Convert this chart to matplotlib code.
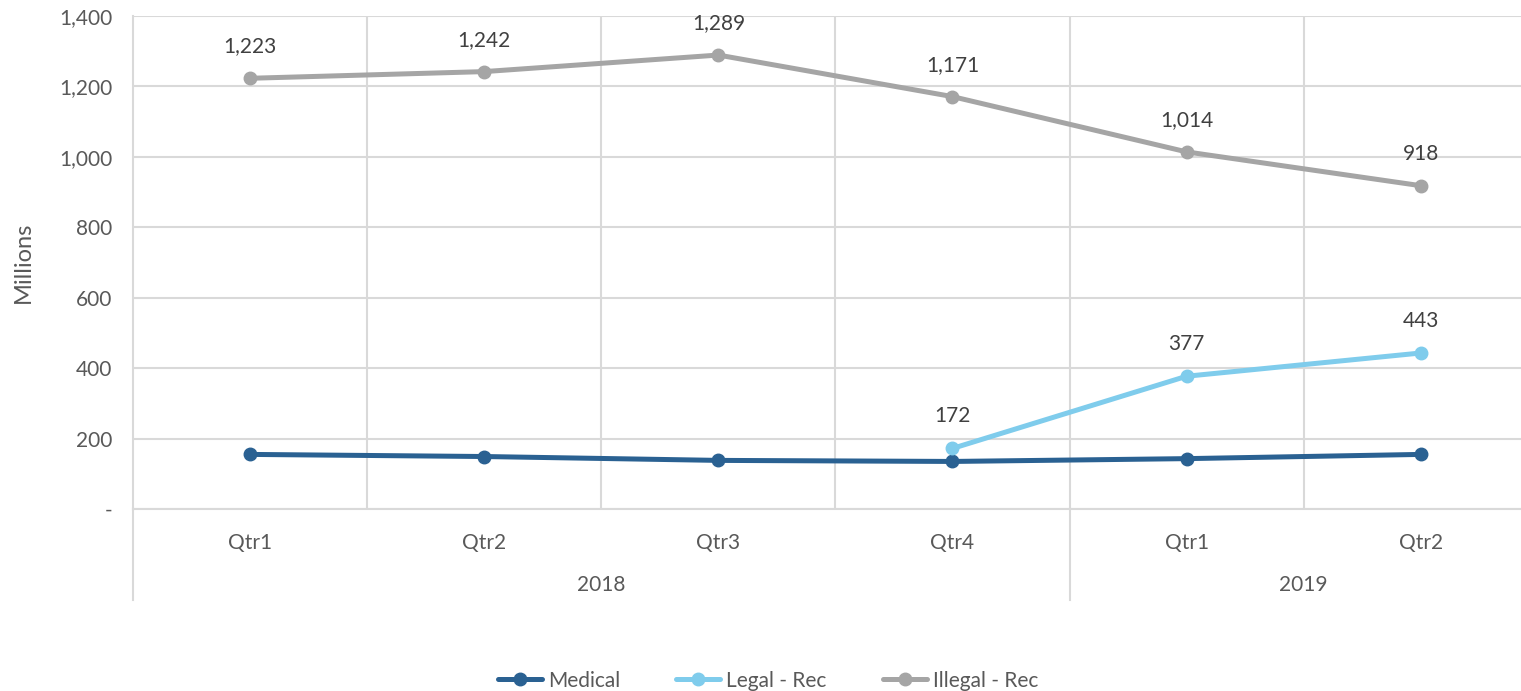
import matplotlib.pyplot as plt
import matplotlib.ticker as mticker
import numpy as np

quarters = ['Qtr1', 'Qtr2', 'Qtr3', 'Qtr4', 'Qtr1', 'Qtr2']
years = ['2018', '2019']
year_groups = [[0, 1, 2, 3], [4, 5]]
medical = [155, 149, 138, 135, 143, 155]
legal_rec = [np.nan, np.nan, np.nan, 172, 377, 443]
illegal_rec = [1223, 1242, 1289, 1171, 1014, 918]

plt.rcParams['font.family'] = ['Lato', 'DejaVu Sans']

grid_c = '#D9D9D9'
text_c = '#595959'

fig = plt.figure(figsize=(15.21, 6.91), dpi=100)
ax = fig.add_axes([0.0874, 0.2634, 0.9237, 0.7135])

x = np.arange(len(quarters))
series = [('Medical', medical, '#2A6192', False),
          ('Legal - Rec', legal_rec, '#7FCCEC', True),
          ('Illegal - Rec', illegal_rec, '#A5A5A5', True)]
for name, vals, col, labelled in series:
    ax.plot(x, vals, color=col, lw=3.6, marker='o', ms=9, label=name,
            solid_capstyle='round', zorder=3)
    if labelled:
        for xi, v in zip(x, vals):
            if not np.isnan(v):
                ax.annotate(f'{v:,.0f}', (xi, v), xytext=(0, 23), textcoords='offset points',
                            ha='center', va='center', fontsize=15, color='#404040')

ax.set_xlim(-0.5, len(quarters) - 0.5)
ax.set_ylim(0, 1400)
ax.set_yticks(range(0, 1401, 200))
ax.yaxis.set_major_formatter(mticker.FuncFormatter(lambda v, p: '-' if v == 0 else f'{v:,.0f}'))
ax.set_xticks(x)
ax.set_xticklabels(quarters)
ax.set_xticks(np.arange(0.5, len(quarters) - 0.5), minor=True)
ax.tick_params(axis='both', which='both', length=0, labelsize=15, labelcolor=text_c)
ax.tick_params(axis='x', pad=17)
ax.tick_params(axis='y', pad=15)
ax.grid(axis='y', color=grid_c, lw=1.5)
ax.grid(axis='x', which='minor', color=grid_c, lw=1.5)
ax.set_axisbelow(True)
for s in ['top', 'right']:
    ax.spines[s].set_visible(False)
for s in ['left', 'bottom']:
    ax.spines[s].set_color(grid_c)
    ax.spines[s].set_linewidth(1.5)

ax.set_ylabel('Millions', fontsize=17, color=text_c, labelpad=18)

# year grouping below the axis
tr = ax.get_xaxis_transform()
ax.plot([-0.5, -0.5], [0, -0.185], transform=tr, color=grid_c, lw=1.5, clip_on=False)
ax.plot([3.5, 3.5], [0, -0.185], transform=tr, color=grid_c, lw=1.5, clip_on=False)
for yr, idx in zip(years, year_groups):
    ax.text(np.mean(idx), -0.155, yr, transform=tr, ha='center', va='center',
            fontsize=15, color=text_c)

fig.legend(loc='center', bbox_to_anchor=(0.505, 0.015), ncol=3, frameon=False,
           fontsize=15, labelcolor=text_c, handlelength=2.1, columnspacing=2.7,
           handletextpad=0.3)

fig.savefig('out.png', dpi=100)
